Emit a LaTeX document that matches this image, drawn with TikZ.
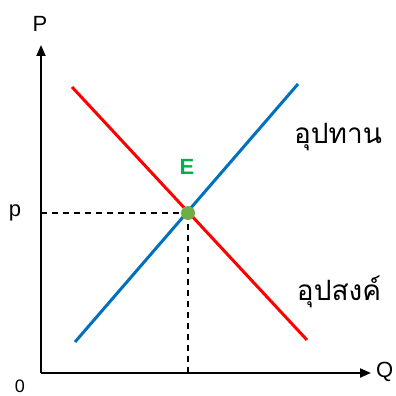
\documentclass[tikz,border=0pt]{standalone}
\usepackage{fontspec}
\setmainfont{Liberation Sans}
\newfontfamily\thaifont[Script=Thai]{Loma}
\usetikzlibrary{arrows.meta}
\definecolor{redline}{RGB}{255,0,0}
\definecolor{blueline}{RGB}{0,112,192}
\definecolor{dotgreen}{RGB}{112,173,71}
\definecolor{egreen}{RGB}{0,176,80}
\tikzset{
  axis/.style={line width=2pt,-{Triangle[length=11pt,width=9pt]}},
  curve/.style={line width=3pt},
  guide/.style={line width=1.6pt,dashed,dash pattern=on 6pt off 5pt},
  lbl/.style={font=\fontsize{22}{24}\selectfont,inner sep=0pt},
  thailbl/.style={font=\thaifont\fontsize{28}{32}\selectfont,inner sep=0pt}
}
\begin{document}
\begin{tikzpicture}[x=1pt,y=-1pt]
\useasboundingbox (0,0) rectangle (396,396);
\coordinate (O) at (41,373);
\coordinate (Ytop) at (41,45);
\coordinate (Xend) at (371,373);
\draw[axis] (O) -- (Ytop);
\draw[axis] (O) -- (Xend);
\node[lbl] (P) at (40,24) {P};
\node[lbl,anchor=west] (Q) at (376,372) {Q};
\node[lbl,font=\fontsize{18}{20}\selectfont] (zero) at (20,386) {0};
\coordinate (Dtop) at (72,87);
\coordinate (Dbot) at (307,340);
\coordinate (Sbot) at (75,342);
\coordinate (Stop) at (298,84);
\coordinate (E) at (188,213);
\coordinate (pax) at (41,213);
\coordinate (qax) at (188,373);
\draw[guide] (pax) -- (E);
\draw[guide] (E) -- (qax);
\draw[curve,redline] (Dtop) -- (Dbot);
\draw[curve,blueline] (Sbot) -- (Stop);
\fill[dotgreen] (E) circle (7pt);
\node[lbl,text=egreen,font=\bfseries\fontsize{22}{24}\selectfont] (Elbl) at (187,167) {E};
\node[lbl] (plbl) at (15,213) {p};
\node[thailbl] (supply) at (338,137) {อุปทาน};
\node[thailbl] (demand) at (339,292) {อุปสงค์};
\end{tikzpicture}
\end{document}
